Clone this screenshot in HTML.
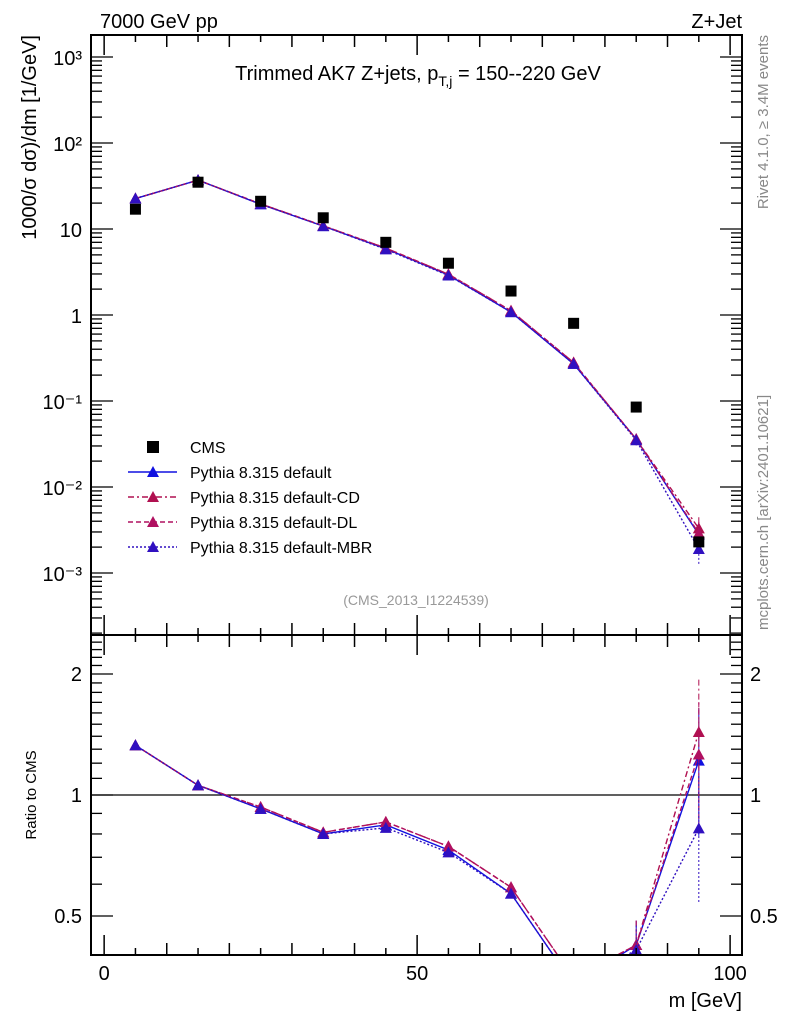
<!DOCTYPE html>
<html><head><meta charset="utf-8"><style>
html,body{margin:0;padding:0;background:#fff;}
svg{display:block;font-family:"Liberation Sans",sans-serif;}
</style></head><body>
<svg id="chart" width="786" height="1024" viewBox="0 0 786 1024" xmlns="http://www.w3.org/2000/svg">
<text x="100" y="28" font-size="20">7000 GeV pp</text>
<text x="742" y="28" font-size="20" text-anchor="end">Z+Jet</text>
<text x="418" y="80" font-size="20" text-anchor="middle">Trimmed AK7 Z+jets, p<tspan font-size="14" dy="6">T,j</tspan><tspan dy="-6"> = 150--220 GeV</tspan></text>
<text transform="translate(36,35) rotate(-90)" font-size="20" text-anchor="end">1000/σ  dσ)/dm [1/GeV]</text>
<text transform="translate(36,795) rotate(-90)" font-size="15" text-anchor="middle">Ratio to CMS</text>
<text x="742" y="1007" font-size="20" text-anchor="end">m [GeV]</text>
<text transform="translate(768,35) rotate(-90)" font-size="15" fill="#888" text-anchor="end">Rivet 4.1.0, ≥ 3.4M events</text>
<text transform="translate(768,630) rotate(-90)" font-size="15" fill="#888">mcplots.cern.ch [arXiv:2401.10621]</text>
<text x="416" y="605" font-size="14" fill="#999" text-anchor="middle">(CMS_2013_I1224539)</text>
<g id="main"></g><g id="ratio"></g><g id="axes"></g><g id="legend"></g>
</svg>
<script>
const bins = [5,15,25,35,45,55,65,75,85,95];
const cms = [17,35,21,13.5,7,4,1.9,0.8,0.085,0.0023];
const mcDefault = [22.6,37,19.4,10.8,5.9,2.92,1.08,0.27,0.036,0.0028];
const mcCD = [22.6,37,19.6,10.9,6.0,2.98,1.12,0.28,0.036,0.0033];
const mcDL = [22.6,37,19.6,10.9,6.0,2.98,1.12,0.28,0.036,0.0029];
const mcMBR = [22.6,37,19.4,10.8,5.8,2.88,1.08,0.27,0.035,0.0019];
const mainTicks = [-3,-2,-1,0,1,2,3];
const mainTickLabels = ["10⁻³","10⁻²","10⁻¹","1","10","10²","10³"];
const ratioTicks = [0.5,1,2];
const xTicks = [0,50,100];

const NS="http://www.w3.org/2000/svg";
const L=91,R=742,T=35,MB=635,RB=955;
const X0=-2.1,X1=101.9;
const sx=v=>L+(v-X0)/(X1-X0)*(R-L);
const syM=v=>57+(3-Math.log10(v))*86;
const syR=v=>795-Math.log10(v)*402;
function el(tag,attrs,parent){const e=document.createElementNS(NS,tag);for(const k in attrs)e.setAttribute(k,attrs[k]);parent.appendChild(e);return e;}
const main=document.getElementById('main'),ratio=document.getElementById('ratio'),axes=document.getElementById('axes'),leg=document.getElementById('legend');
const defs=el('defs',{},document.getElementById('chart'));
const c1=el('clipPath',{id:'cm'},defs);el('rect',{x:L,y:T,width:R-L,height:MB-T},c1);
const c2=el('clipPath',{id:'cr'},defs);el('rect',{x:L,y:MB,width:R-L,height:RB-MB},c2);
main.setAttribute('clip-path','url(#cm)');ratio.setAttribute('clip-path','url(#cr)');

const series=[
 {name:'default',vals:mcDefault,color:'#1010e0',dash:''},
 {name:'cd',vals:mcCD,color:'#b01050',dash:'6,3,2,3'},
 {name:'dl',vals:mcDL,color:'#b01060',dash:'5,3'},
 {name:'mbr',vals:mcMBR,color:'#3010c0',dash:'2,2'}];
function tri(x,y,c,p,n){const t=el('polygon',{points:`${x-6},${y+5} ${x+6},${y+5} ${x},${y-6}`,fill:c},p);
}
// ratio ref line
const rl=el('line',{x1:L,x2:R,y1:syR(1),y2:syR(1),stroke:'#000','stroke-width':1.2},ratio);

series.forEach(s=>{
 const pm=bins.map((b,i)=>sx(b)+','+syM(s.vals[i])).join(' ');
 const l=el('polyline',{points:pm,fill:'none',stroke:s.color,'stroke-width':1.4,'stroke-dasharray':s.dash},main);
 
 const pr=bins.map((b,i)=>sx(b)+','+syR(s.vals[i]/cms[i])).join(' ');
 const l2=el('polyline',{points:pr,fill:'none',stroke:s.color,'stroke-width':1.4,'stroke-dasharray':s.dash},ratio);
 
 // error bars for last two bins
 [8,9].forEach(i=>{const v=s.vals[i],e=v*(i==9?0.35:0.15);
  el('line',{x1:sx(bins[i]),x2:sx(bins[i]),y1:syM(v+e),y2:syM(v-e),stroke:s.color,'stroke-width':1,'stroke-dasharray':s.dash},main);
  el('line',{x1:sx(bins[i]),x2:sx(bins[i]),y1:syR((v+e)/cms[i]),y2:syR((v-e)/cms[i]),stroke:s.color,'stroke-width':1,'stroke-dasharray':s.dash},ratio);});
 bins.forEach((b,i)=>{tri(sx(b),syM(s.vals[i]),s.color,main,'marker-'+s.name);
  tri(sx(b),syR(s.vals[i]/cms[i]),s.color,ratio,'ratio-marker-'+s.name);});
});
bins.forEach((b,i)=>{const r=el('rect',{x:sx(b)-5.5,y:syM(cms[i])-5.5,width:11,height:11,fill:'#000'},main);
 });

// frames
[[T,MB],[MB,RB]].forEach(([a,b],k)=>{const f=el('rect',{x:L,y:a,width:R-L,height:b-a,fill:'none',stroke:'#000','stroke-width':2},axes);
 });
// x ticks
for(let v=0;v<=100;v+=5){const big=v%10==0?1:0;const len=(v%50==0)?20:(big?12:7);
 [T,MB].forEach(y=>el('line',{x1:sx(v),x2:sx(v),y1:y,y2:y+len,stroke:'#000','stroke-width':1.5},axes));
 [MB,RB].forEach(y=>el('line',{x1:sx(v),x2:sx(v),y1:y,y2:y-len,stroke:'#000','stroke-width':1.5},axes));}
xTicks.forEach(v=>{const t=el('text',{x:sx(v),y:980,'font-size':20,'text-anchor':'middle'},axes);t.textContent=v;
 });
// main y ticks
for(let d=-4;d<=3;d++){for(let m=1;m<10;m++){const v=m*Math.pow(10,d),y=syM(v);if(y<T||y>MB)continue;const len=m==1?22:11;
 el('line',{x1:L,x2:L+len,y1:y,y2:y,stroke:'#000','stroke-width':1.3},axes);el('line',{x1:R,x2:R-len,y1:y,y2:y,stroke:'#000','stroke-width':1.3},axes);}}
mainTicks.forEach((d,i)=>{const t=el('text',{x:82,y:syM(Math.pow(10,d))+8,'font-size':20,'text-anchor':'end'},axes);t.textContent=mainTickLabels[i];
 });
// ratio ticks
for(let v=0.4;v<=2.5;v+=0.1){const y=syR(v);if(y<MB||y>RB)continue;const maj=[0.5,1,2].some(q=>Math.abs(q-v)<1e-6);const len=maj?22:11;
 el('line',{x1:L,x2:L+len,y1:y,y2:y,stroke:'#000','stroke-width':1.3},axes);el('line',{x1:R,x2:R-len,y1:y,y2:y,stroke:'#000','stroke-width':1.3},axes);}
ratioTicks.forEach(v=>{[[82,'end'],[750,'start']].forEach(([x,a])=>{const t=el('text',{x:x,y:syR(v)+7,'font-size':20,'text-anchor':a},axes);t.textContent=v;
 });});
// legend
const lg=[['CMS',null],['Pythia 8.315 default',series[0]],['Pythia 8.315 default-CD',series[1]],['Pythia 8.315 default-DL',series[2]],['Pythia 8.315 default-MBR',series[3]]];
lg.forEach(([txt,s],i)=>{const y=447+i*25;const g=el('g',{},leg);
 
 if(!s)el('rect',{x:147,y:y-6,width:12,height:12,fill:'#000'},g);
 else{el('line',{x1:128,x2:177,y1:y,y2:y,stroke:s.color,'stroke-width':1.4,'stroke-dasharray':s.dash},g);tri(153,y,s.color,g,'legend-marker');}
 const t=el('text',{x:190,y:y+6,'font-size':16},g);t.textContent=txt;});
</script>
</body></html>
